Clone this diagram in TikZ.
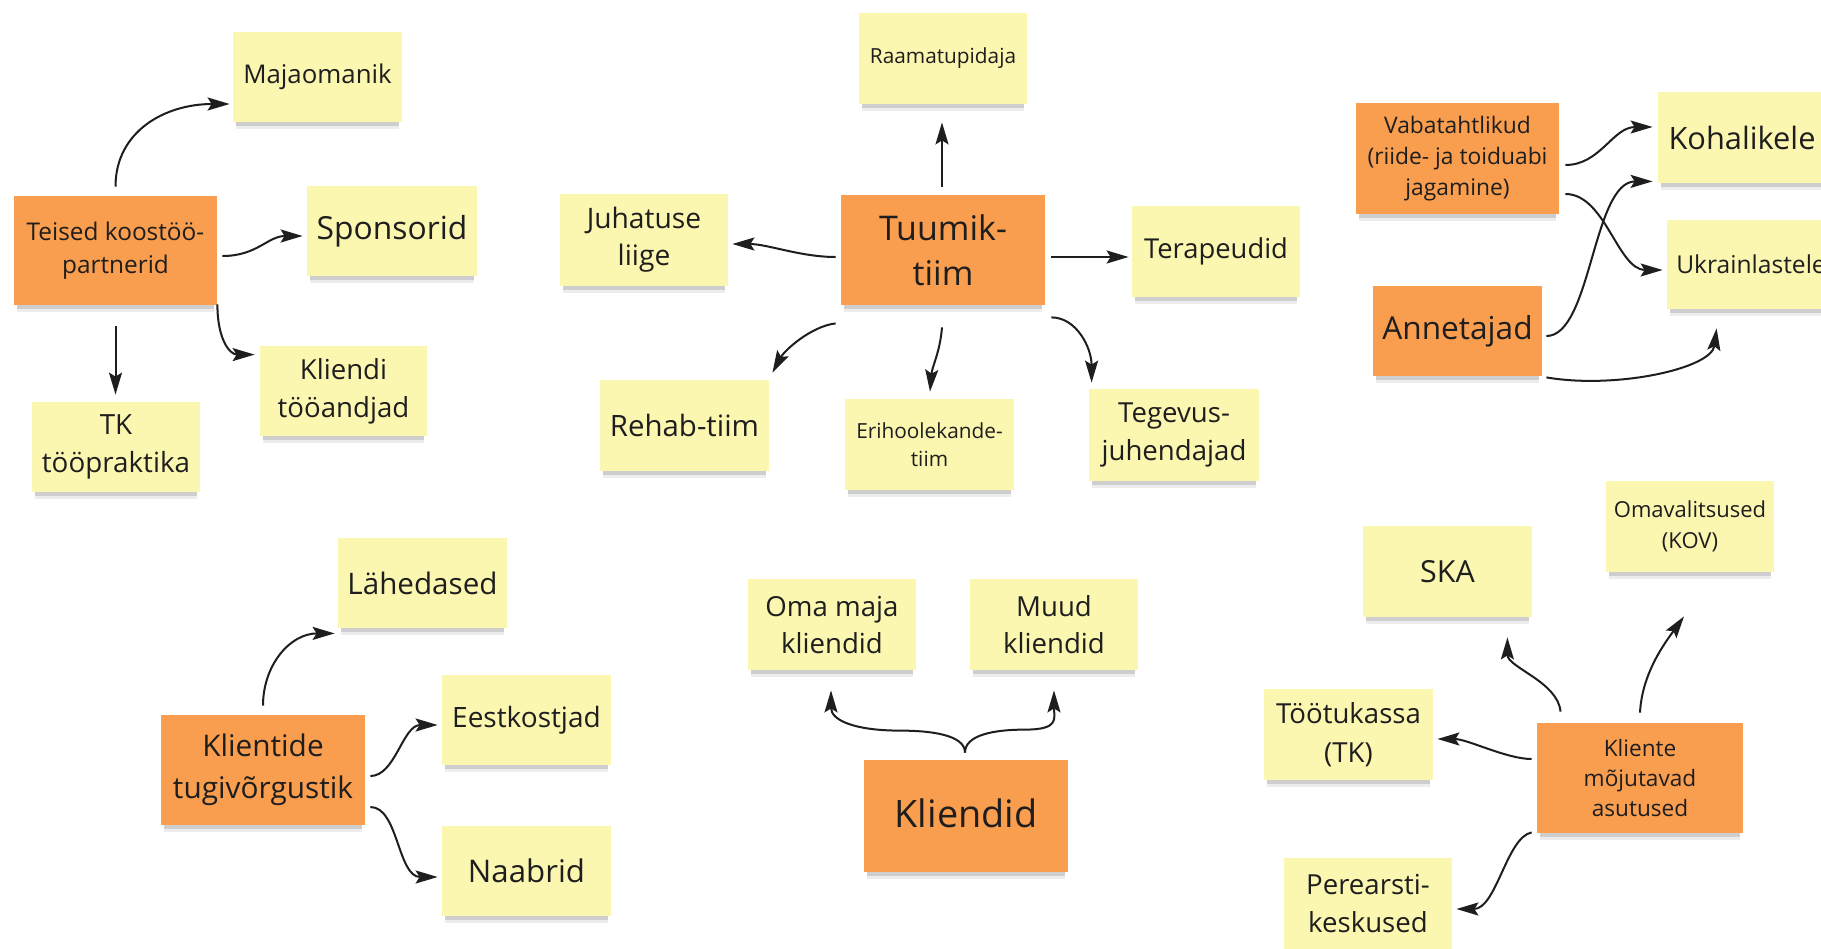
\documentclass[tikz,border=0pt]{standalone}
\usepackage{fontspec}
\setmainfont{Open Sans}
\usetikzlibrary{arrows.meta,calc,shadows}
\definecolor{sty}{HTML}{FBF6B0}
\definecolor{ora}{HTML}{F99D4F}
\definecolor{txt}{HTML}{1E1E1E}
\tikzset{
  note/.style={rectangle, inner sep=2pt, align=center, text=txt,
    general shadow={fill=black, opacity=0.07, shadow yshift=-4.5pt, shadow scale=0.97},
    general shadow={fill=black, opacity=0.13, shadow yshift=-2.8pt, shadow scale=0.97}},
  yel/.style={note, fill=sty},
  org/.style={note, fill=ora},
  sz/.style 2 args={minimum width={#1*0.5pt}, minimum height={#2*0.5pt}},
  fs/.style 2 args={font=\fontsize{#1pt}{#2pt}\selectfont},
  arr/.style={-{Stealth[length=11pt,width=6.5pt,inset=2pt]}, line width=1pt, draw=txt}
}
\begin{document}
\begin{tikzpicture}[x=0.5pt, y=-0.5pt]
\path[use as bounding box, fill=white] (0,0) rectangle (1821,948);
% group 1
\node[yel, sz={169}{90}, fs={12.9}{16}] (majaomanik) at (317.5,77) {Majaomanik};
\node[org, sz={203}{109}, fs={12.2}{16.5}] (teised) at (115.5,250.5) {\raisebox{1.5pt}{\parbox{92pt}{\centering Teised koostöö-\\partnerid}}};
\node[yel, sz={170}{90}, fs={15.9}{19}] (sponsorid) at (392,231) {Sponsorid};
\node[yel, sz={167}{90}, fs={13.8}{19}] (kliendiToo) at (343.5,391) {Kliendi\\tööandjad};
\node[yel, sz={168}{90}, fs={13.9}{19}] (tk) at (116,447) {TK\\tööpraktika};
% group 2
\node[yel, sz={168}{91}, fs={10.4}{13}] (raamat) at (943,58.5) {Raamatupidaja};
\node[org, sz={204}{110}, fs={17}{22.5}] (tuumik) at (943,250) {\raisebox{2pt}{\parbox{90pt}{\centering Tuumik-\\tiim}}};
\node[yel, sz={168}{92}, fs={14.1}{18.5}] (juhatus) at (644,239.5) {Juhatuse\\liige};
\node[yel, sz={168}{91}, fs={13.7}{18}] (terap) at (1216,251.5) {Terapeudid};
\node[yel, sz={169}{91}, fs={14.7}{18}] (rehab) at (684.5,425.5) {Rehab-tiim};
\node[yel, sz={169}{91}, fs={10.4}{14}] (eriho) at (929.5,444.5) {Erihoolekande-\\tiim};
\node[yel, sz={170}{92}, fs={13.8}{19}] (tegevus) at (1174,435) {Tegevus-\\juhendajad};
% group 3
\node[org, sz={203}{111}, fs={11.4}{15.5}] (vaba) at (1457.5,158.5) {Vabatahtlikud\\(riide- ja toiduabi\\jagamine)};
\node[yel, sz={168}{91}, fs={15.4}{19}] (kohal) at (1742,137.5) {Kohalikele};
\node[yel, sz={168}{89}, fs={12.3}{15}] (ukr) at (1751,264.5) {Ukrainlastele};
\node[org, sz={169}{90}, fs={15.8}{19}] (annet) at (1457.5,331) {Annetajad};
% group 4
\node[yel, sz={169}{91}, fs={15.2}{19}] (ska) at (1447.5,571.5) {SKA};
\node[yel, sz={168}{91}, fs={11}{15.5}] (omav) at (1690,526.5) {Omavalitsused\\(KOV)};
\node[yel, sz={169}{91}, fs={13.8}{19.5}] (tootuk) at (1348.5,734.5) {Töötukassa\\(TK)};
\node[org, sz={206}{110}, fs={11.3}{15}] (kliente) at (1640,778) {Kliente\\mõjutavad\\asutused};
\node[yel, sz={168}{91}, fs={13.8}{19}] (perearst) at (1368,903) {Perearsti-\\keskused};
% group 5
\node[org, sz={204}{110}, fs={14.9}{21}] (klientide) at (263,770) {Klientide\\tugivõrgustik};
\node[yel, sz={169}{90}, fs={14.8}{18}] (lahed) at (422.5,583) {Lähedased};
\node[yel, sz={169}{90}, fs={14}{18}] (eestk) at (526.5,720) {Eestkostjad};
\node[yel, sz={169}{90}, fs={15.6}{19}] (naabrid) at (526.5,871) {Naabrid};
% group 6
\node[yel, sz={168}{91}, fs={13.8}{18.5}] (omamaja) at (832,624.5) {Oma maja\\kliendid};
\node[yel, sz={168}{91}, fs={13.8}{18.5}] (muud) at (1054,624.5) {Muud\\kliendid};
\node[org, sz={204}{112}, fs={18.9}{22}] (kliendid) at (966,816) {\raisebox{3pt}{Kliendid}};

% connectors group 1
\draw[arr] ($(teised.north)+(0,-9)$) .. controls +(0,-55) and +(-65,0) .. ($(majaomanik.west)+(-3,27)$);
\draw[arr] ($(teised.east)+(5,5.5)$) .. controls +(35,0) and +(-35,0) .. ($(sponsorid.west)+(-4,5)$);
\draw[arr] ($(teised.south east)+(0,-1)$) .. controls +(0,35) and +(-25,0) .. ($(kliendiToo.north west)+(-5,9)$);
\draw[arr] ($(teised.south)+(0,21)$) -- ($(tk.north)+(-0.5,-7)$);
% connectors group 2
\draw[arr] ($(tuumik.north)+(-1,-8)$) -- ($(raamat.south)+(-1,18)$);
\draw[arr] ($(tuumik.west)+(-5,7)$) .. controls +(-35,0) and +(35,0) .. ($(juhatus.east)+(4,4.5)$);
\draw[arr] ($(tuumik.east)+(6,7)$) -- ($(terap.west)+(-3,5.5)$);
\draw[arr] ($(tuumik.south west)+(-5,18)$) .. controls +(-25,3) and +(12,-22) .. ($(rehab.north east)+(3,-7)$);
\draw[arr] ($(tuumik.south)+(-1,22)$) .. controls +(-2,25) and +(2,-25) .. ($(eriho.north)+(0.5,-7)$);
\draw[arr] ($(tuumik.south east)+(6,12)$) .. controls +(25,0) and +(0,-35) .. ($(tegevus.north west)+(3,-6)$);
% connectors group 3
\draw[arr] ($(vaba.east)+(6,6.5)$) .. controls +(35,0) and +(-40,0) .. ($(kohal.west)+(-5,-10.5)$);
\draw[arr] ($(vaba.east)+(6,35.5)$) .. controls +(40,0) and +(-45,0) .. ($(ukr.west)+(-4,5.5)$);
\draw[arr] ($(annet.east)+(4,5)$) .. controls +(45,0) and +(-60,0) .. ($(kohal.south west)+(-5,-2)$);
\draw[arr] ($(annet.south east)+(4,1)$) .. controls +(70,12) and +(-5,40) .. ($(ukr.south west)+(50,19)$);
% connectors group 4
\draw[arr] ($(kliente.north west)+(24,-11)$) .. controls +(-3,-30) and +(0,30) .. ($(ska.south east)+(-25,20)$);
\draw[arr] ($(kliente.north)+(0,-10)$) .. controls +(2,-40) and +(-18,25) .. ($(omav.south)+(-6,44)$);
\draw[arr] ($(kliente.west)+(-5,-19)$) .. controls +(-25,0) and +(30,0) .. ($(tootuk.east)+(4,4.5)$);
\draw[arr] ($(kliente.south west)+(-5,-1)$) .. controls +(-25,5) and +(40,0) .. ($(perearst.east)+(4,6)$);
% connectors group 5
\draw[arr] ($(klientide.north)+(0,-9)$) .. controls +(0,-40) and +(-45,0) .. ($(lahed.south west)+(-3,5)$);
\draw[arr] ($(klientide.east)+(5,6)$) .. controls +(25,0) and +(-35,0) .. ($(eestk.west)+(-4,5)$);
\draw[arr] ($(klientide.east)+(5,37)$) .. controls +(28,0) and +(-40,0) .. ($(naabrid.west)+(-4,6)$);
% connectors group 6
\coordinate (kj) at ($(kliendid.north)+(-1,-7)$);
\draw[arr] (kj) .. controls +(0,-18) and +(30,0) .. ($(kj)+(-65,-22)$) .. controls +(-45,0) and +(0,30) .. ($(omamaja.south)+(-1,20)$);
\draw[arr] (kj) .. controls +(0,-18) and +(-30,0) .. ($(kj)+(60,-23)$) .. controls +(35,0) and +(0,28) .. ($(muud.south)+(0,20)$);
\end{tikzpicture}
\end{document}
